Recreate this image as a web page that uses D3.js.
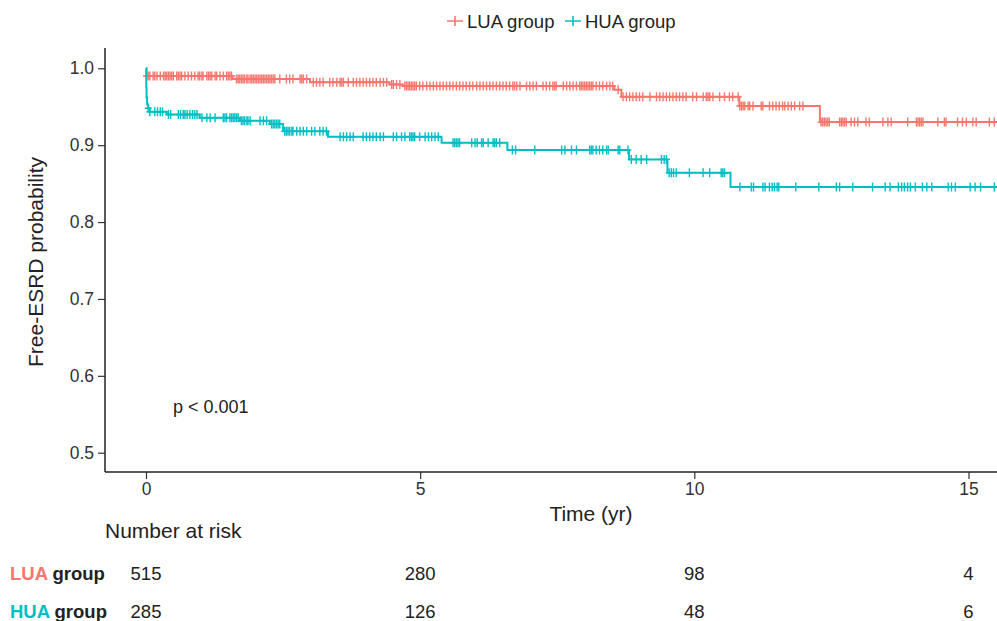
<!DOCTYPE html>
<html>
<head>
<meta charset="utf-8">
<script src="https://cdn.jsdelivr.net/npm/d3@7"></script>
<style>
  body { margin: 0; background: #fff; }
  text { font-family: "Liberation Sans", Arial, sans-serif; }
</style>
</head>
<body>
<div id="chart"></div>
<script>
// Groups and colours
var groups = ["LUA group", "HUA group"];
var groupShort = ["LUA", "HUA"];
var colors = ["#F8766D", "#00BFC4"];

// Axis ticks
var timeTicks = [0, 5, 10, 15];
var probTicks = [0.5, 0.6, 0.7, 0.8, 0.9, 1.0];

// Kaplan-Meier steps (time in years, survival)
var luaTime = [0, 0.01, 1.58, 2.99, 4.44, 4.68, 8.54, 8.67, 10.82, 12.29, 15.6];
var luaSurv = [1.0, 0.990, 0.986, 0.982, 0.979, 0.977, 0.972, 0.963, 0.951, 0.930, 0.930];

var huaTime = [0, 0.005, 0.01, 0.02, 0.04, 0.07, 0.38, 0.98, 1.71, 2.26, 2.50, 3.32, 5.39, 6.59, 8.81, 9.51, 10.66, 15.6];
var huaSurv = [1.0, 0.975, 0.962, 0.953, 0.948, 0.9435, 0.940, 0.9357, 0.9318, 0.9275, 0.918, 0.911, 0.903, 0.8936, 0.8815, 0.864, 0.8455, 0.8455];

// Censoring times (years)
var luaCensor = [0.01, 0.04, 0.07, 0.13, 0.16, 0.20, 0.26, 0.32, 0.35, 0.38, 0.41, 0.44, 0.47, 0.50, 0.56, 0.59,
  0.62, 0.65, 0.71, 0.77, 0.83, 0.89, 0.95, 0.98, 1.02, 1.04, 1.11, 1.14, 1.17, 1.20, 1.26, 1.29, 1.35, 1.41,
  1.47, 1.50, 1.53, 1.56, 1.65, 1.68, 1.71, 1.74, 1.77, 1.80, 1.84, 1.86, 1.90, 1.93, 1.96, 1.99, 2.02, 2.05,
  2.08, 2.11, 2.14, 2.17, 2.20, 2.23, 2.26, 2.29, 2.32, 2.35, 2.44, 2.56, 2.62, 2.68, 2.81, 2.84, 2.87, 2.93,
  3.05, 3.11, 3.17, 3.23, 3.35, 3.41, 3.48, 3.54, 3.57, 3.60, 3.69, 3.78, 3.84, 3.90, 3.96, 4.02, 4.08, 4.14,
  4.20, 4.27, 4.33, 4.39, 4.48, 4.51, 4.57, 4.63, 4.72, 4.75, 4.78, 4.81, 4.84, 4.87, 4.90, 4.93, 4.99, 5.05,
  5.12, 5.18, 5.24, 5.30, 5.36, 5.42, 5.48, 5.54, 5.60, 5.66, 5.72, 5.78, 5.84, 5.90, 5.96, 6.03, 6.09, 6.15,
  6.21, 6.27, 6.33, 6.39, 6.45, 6.51, 6.57, 6.63, 6.69, 6.72, 6.76, 6.82, 6.94, 7.00, 7.06, 7.12, 7.24, 7.30,
  7.36, 7.42, 7.45, 7.48, 7.61, 7.67, 7.73, 7.79, 7.85, 7.91, 7.94, 7.97, 8.00, 8.03, 8.06, 8.09, 8.12, 8.15,
  8.21, 8.27, 8.33, 8.40, 8.46, 8.51, 8.61, 8.70, 8.76, 8.82, 8.88, 8.94, 9.00, 9.06, 9.19, 9.31, 9.37, 9.43,
  9.49, 9.55, 9.61, 9.67, 9.73, 9.79, 9.85, 9.97, 10.04, 10.16, 10.22, 10.25, 10.28, 10.34, 10.46, 10.55,
  10.64, 10.70, 10.80, 10.83, 10.86, 10.89, 10.92, 10.98, 11.01, 11.07, 11.22, 11.25, 11.37, 11.43, 11.49,
  11.55, 11.61, 11.65, 11.71, 11.77, 11.83, 11.92, 11.98, 12.31, 12.34, 12.37, 12.40, 12.43, 12.46, 12.65,
  12.68, 12.71, 12.74, 12.77, 12.86, 12.92, 12.98, 13.13, 13.19, 13.44, 13.53, 13.59, 13.89, 14.05, 14.08,
  14.11, 14.14, 14.17, 14.44, 14.56, 14.59, 14.80, 14.89, 14.96, 15.08, 15.14, 15.38, 15.47];

var huaCensor = [0.04, 0.07, 0.16, 0.21, 0.26, 0.30, 0.41, 0.45, 0.59, 0.63, 0.68, 0.71, 0.75, 0.80, 0.85, 0.89,
  0.93, 1.02, 1.11, 1.17, 1.26, 1.41, 1.44, 1.47, 1.53, 1.56, 1.59, 1.62, 1.65, 1.68, 1.74, 1.77, 1.80, 1.84,
  1.86, 1.90, 2.08, 2.14, 2.20, 2.29, 2.32, 2.35, 2.38, 2.41, 2.44, 2.53, 2.56, 2.59, 2.62, 2.66, 2.68, 2.75,
  2.81, 2.87, 2.93, 3.02, 3.08, 3.17, 3.23, 3.29, 3.54, 3.60, 3.66, 3.72, 3.78, 3.96, 4.02, 4.08, 4.14, 4.20,
  4.27, 4.33, 4.51, 4.57, 4.66, 4.72, 4.81, 4.84, 4.87, 4.90, 4.99, 5.09, 5.15, 5.21, 5.27, 5.33, 5.60, 5.63,
  5.66, 5.69, 5.72, 5.94, 6.00, 6.04, 6.12, 6.15, 6.24, 6.33, 6.36, 6.39, 6.45, 6.68, 6.74, 7.09, 7.58, 7.64,
  7.76, 7.85, 8.09, 8.12, 8.15, 8.21, 8.27, 8.33, 8.40, 8.43, 8.61, 8.64, 8.79, 8.85, 8.94, 9.03, 9.13, 9.40,
  9.45, 9.49, 9.54, 9.58, 9.62, 9.67, 9.91, 10.16, 10.28, 10.49, 10.52, 10.55, 10.83, 11.04, 11.08, 11.25,
  11.29, 11.37, 11.42, 11.46, 11.51, 11.54, 11.85, 12.27, 12.59, 12.65, 12.89, 13.25, 13.48, 13.57, 13.72,
  13.78, 13.83, 13.89, 13.94, 14.03, 14.16, 14.24, 14.33, 14.63, 14.69, 14.76, 15.03, 15.12, 15.22, 15.47];

// Number at risk
var riskLUA = [515, 280, 98, 4];
var riskHUA = [285, 126, 48, 6];
var pText = "p < 0.001";

// Dimensions
var svgWidth = 997;
var svgHeight = 621;
var plotLeft = 105, plotRight = 997, plotTop = 48, plotBottom = 472;

var svg = d3.select("#chart").append("svg")
  .attr("width", svgWidth)
  .attr("height", svgHeight);

// Scales
var x = d3.scaleLinear().domain([0, 15]).range([146, 968.5]);
var y = d3.scaleLinear().domain([0.5, 1.0]).range([452.7, 68.3]);

// Clip to plot panel
svg.append("clipPath").attr("id", "clip")
  .append("rect")
  .attr("x", plotLeft).attr("y", plotTop)
  .attr("width", plotRight - plotLeft).attr("height", plotBottom - plotTop);

var series = [
  { time: luaTime, surv: luaSurv, censor: luaCensor, color: colors[0] },
  { time: huaTime, surv: huaSurv, censor: huaCensor, color: colors[1] }
];

var line = d3.line()
  .x(d => x(d[0]))
  .y(d => y(d[1]))
  .curve(d3.curveStepAfter);

var plot = svg.append("g").attr("clip-path", "url(#clip)");

var plusPath = "M-3.5,0H3.5M0,-4.5V4.5";

series.forEach(function(s) {
  var pts = s.time.map((t, i) => [t, s.surv[i]]);
  plot.append("path")
    .datum(pts)
    .attr("fill", "none")
    .attr("stroke", s.color)
    .attr("stroke-width", 2)
    .attr("d", line);

  plot.selectAll(null)
    .data(s.censor)
    .enter()
    .append("path")
    .attr("transform", function(t) {
      var i = d3.bisectRight(s.time, t) - 1;
      return `translate(${x(t)},${y(s.surv[Math.max(i, 0)])})`;
    })
    .attr("d", plusPath)
    .attr("stroke", s.color)
    .attr("stroke-width", 1.4)
    .attr("fill", "none");
});

// Axes
var axisY = d3.axisLeft(y).tickValues(probTicks).tickFormat(d3.format(".1f")).tickSize(7).tickPadding(4);
var axisX = d3.axisBottom(x).tickValues(timeTicks).tickSize(7).tickPadding(4);

var gy = svg.append("g").attr("transform", `translate(${plotLeft},0)`).call(axisY);
var gx = svg.append("g").attr("transform", `translate(0,${plotBottom})`).call(axisX);

[gy, gx].forEach(function(g) {
  g.select(".domain").remove();
  g.selectAll(".tick line").attr("stroke", "#333").attr("stroke-width", 1.2);
  g.selectAll(".tick text").attr("fill", "#333").attr("font-size", 17.5);
});

svg.append("line")
  .attr("x1", plotLeft).attr("x2", plotLeft)
  .attr("y1", plotTop).attr("y2", plotBottom)
  .attr("stroke", "#222").attr("stroke-width", 1.5);
svg.append("line")
  .attr("x1", plotLeft).attr("x2", plotRight)
  .attr("y1", plotBottom).attr("y2", plotBottom)
  .attr("stroke", "#222").attr("stroke-width", 1.5);

// Axis titles
svg.append("text")
  .attr("transform", "translate(43,262) rotate(-90)")
  .attr("text-anchor", "middle")
  .attr("font-size", 21)
  .attr("fill", "#222")
  .text("Free-ESRD probability");

svg.append("text")
  .attr("x", 591).attr("y", 521)
  .attr("text-anchor", "middle")
  .attr("font-size", 21)
  .attr("fill", "#222")
  .text("Time (yr)");

// p-value
svg.append("text")
  .attr("x", 173).attr("y", 413)
  .attr("font-size", 18)
  .attr("fill", "#222")
  .text(pText);

// Legend
var legendX = [455, 573];
groups.forEach(function(g, i) {
  var lg = svg.append("g").attr("transform", `translate(${legendX[i]},21)`);
  lg.append("path")
    .attr("d", "M-8,0H8M0,-5V5")
    .attr("stroke", colors[i])
    .attr("stroke-width", 1.6);
  lg.append("text")
    .attr("x", 12).attr("y", 6.5)
    .attr("font-size", 18.5)
    .attr("fill", "#222")
    .text(g);
});

// Risk table
svg.append("text")
  .attr("x", 105).attr("y", 538)
  .attr("font-size", 21)
  .attr("fill", "#222")
  .text("Number at risk");

var riskRows = [riskLUA, riskHUA];
var rowY = [580, 618];
riskRows.forEach(function(row, i) {
  var label = svg.append("text")
    .attr("x", 10).attr("y", rowY[i])
    .attr("font-size", 18.5)
    .attr("font-weight", "bold");
  label.append("tspan").attr("fill", colors[i]).text(groupShort[i]);
  label.append("tspan").attr("fill", "#222").text(" group");

  svg.selectAll(null)
    .data(row)
    .enter()
    .append("text")
    .attr("x", (d, j) => x(timeTicks[j]))
    .attr("y", rowY[i])
    .attr("text-anchor", "middle")
    .attr("font-size", 18.5)
    .attr("fill", "#222")
    .text(d => d);
});
</script>
</body>
</html>
